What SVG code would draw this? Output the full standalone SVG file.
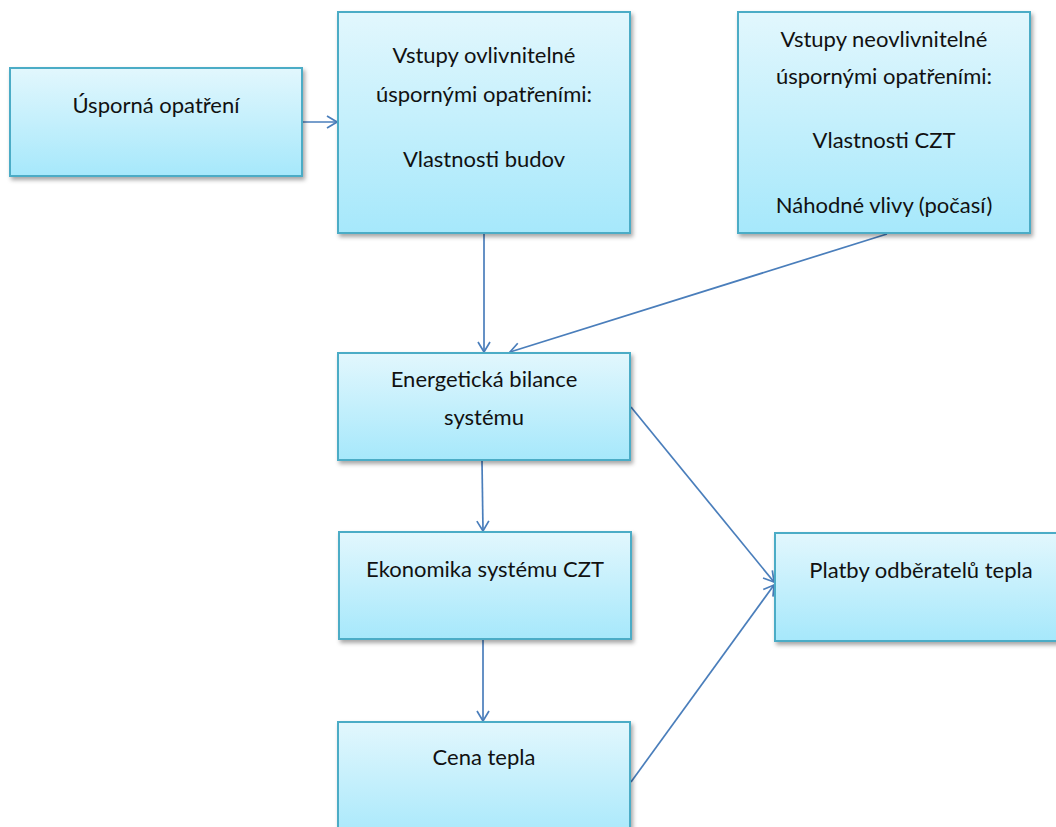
<svg xmlns="http://www.w3.org/2000/svg" width="1056" height="827" viewBox="0 0 1056 827">
  <defs>
    <linearGradient id="boxFill" x1="0" y1="0" x2="0" y2="1">
      <stop offset="0" stop-color="#e2f7fd"/>
      <stop offset="1" stop-color="#a6e8fb"/>
    </linearGradient>
    <filter id="shadow" x="-10%" y="-10%" width="125%" height="130%">
      <feDropShadow dx="2" dy="3" stdDeviation="2" flood-color="#000" flood-opacity="0.35"/>
    </filter>
    <marker id="arrow" viewBox="0 0 12 14" refX="11" refY="7" markerWidth="12" markerHeight="14" markerUnits="userSpaceOnUse" orient="auto">
      <path d="M1,1 L11,7 L1,13" fill="none" stroke="#4a7ebb" stroke-width="1.7"/>
    </marker>
    <style>
      .box { fill: url(#boxFill); stroke: #4bacc6; stroke-width: 2; filter: url(#shadow); }
      .label { font-family: Lato, "Open Sans", "DejaVu Sans", sans-serif; font-size: 22px; fill: #111; text-anchor: middle; }
      .edge { fill: none; stroke: #4a7ebb; stroke-width: 1.7; marker-end: url(#arrow); }
    </style>
  </defs>

  <rect width="1056" height="827" fill="#fff"/>

  <g id="connectors">
    <line class="edge" x1="303" y1="122" x2="337" y2="122"/>
    <line class="edge" x1="484" y1="234" x2="484" y2="352"/>
    <line class="edge" x1="887" y1="234" x2="510" y2="352"/>
    <line class="edge" x1="482" y1="461" x2="483" y2="531"/>
    <line class="edge" x1="483" y1="640" x2="483" y2="721"/>
    <line class="edge" x1="631" y1="407" x2="774" y2="582"/>
    <line class="edge" x1="631" y1="782" x2="774" y2="585"/>
  </g>

  <g id="usporna-opatreni">
    <rect class="box" x="10" y="68" width="292" height="108"/>
    <text class="label" x="156" y="113">Úsporná opatření</text>
  </g>

  <g id="vstupy-ovlivnitelne">
    <rect class="box" x="338" y="12" width="292" height="221"/>
    <text class="label" x="484" y="63">Vstupy ovlivnitelné</text>
    <text class="label" x="484" y="102">úspornými opatřeními:</text>
    <text class="label" x="484" y="167">Vlastnosti budov</text>
  </g>

  <g id="vstupy-neovlivnitelne">
    <rect class="box" x="738" y="12" width="292" height="221"/>
    <text class="label" x="884" y="47">Vstupy neovlivnitelné</text>
    <text class="label" x="884" y="84">úspornými opatřeními:</text>
    <text class="label" x="884" y="148">Vlastnosti CZT</text>
    <text class="label" x="884" y="213">Náhodné vlivy (počasí)</text>
  </g>

  <g id="energeticka-bilance">
    <rect class="box" x="338" y="353" width="292" height="107"/>
    <text class="label" x="484" y="387">Energetická bilance</text>
    <text class="label" x="484" y="425">systému</text>
  </g>

  <g id="ekonomika">
    <rect class="box" x="339" y="532" width="292" height="107"/>
    <text class="label" x="485" y="577">Ekonomika systému CZT</text>
  </g>

  <g id="cena-tepla">
    <rect class="box" x="338" y="722" width="292" height="120"/>
    <text class="label" x="484" y="765">Cena tepla</text>
  </g>

  <g id="platby">
    <rect class="box" x="775" y="533" width="292" height="108"/>
    <text class="label" x="921" y="578">Platby odběratelů tepla</text>
  </g>
</svg>
